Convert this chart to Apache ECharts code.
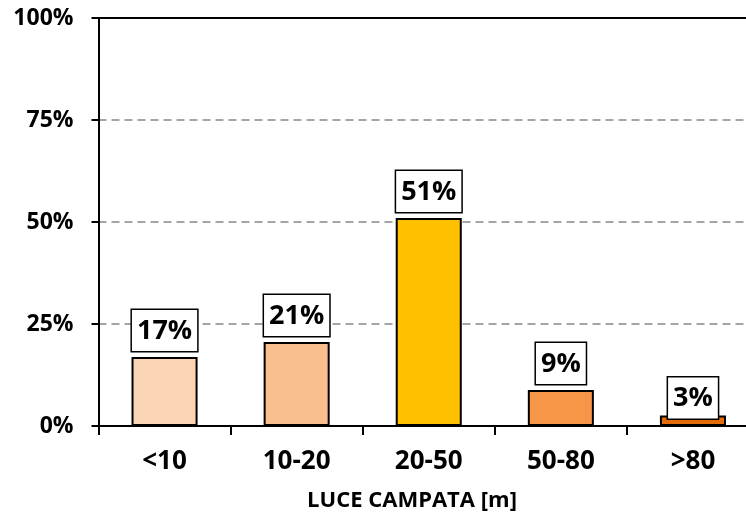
<!DOCTYPE html>
<html><head><meta charset="utf-8">
<script src="https://cdn.jsdelivr.net/npm/echarts@6/dist/echarts.min.js"></script>
<style>html,body{margin:0;padding:0;background:#fff}#c{width:746px;height:520px}</style>
</head><body><div id="c"></div>
<script>
const categories = ['<10', '10-20', '20-50', '50-80', '>80'];
const values = [16.9, 20.6, 51.0, 8.8, 2.6];
const barColors = ['#FBD5B5', '#F9BF8F', '#FFC000', '#F79646', '#E36C09'];
const yTicks = [0, 25, 50, 75, 100];
const axisTitle = 'LUCE CAMPATA [m]';

const FONT = "'Open Sans', sans-serif";
const chart = echarts.init(document.getElementById('c'));
chart.setOption({
  animation: false,
  title: { text: axisTitle, left: 407, top: 485, textAlign: 'center',
    textStyle: { fontFamily: FONT, fontWeight: 'bold', fontSize: 22, color: '#000' } },
  grid: { left: 98.5, top: 18, width: 660.5, height: 408, outerBoundsMode: 'none', containLabel: false },
  xAxis: [{
    type: 'category', data: categories,
    axisLine: { lineStyle: { color: '#000', width: 2 } },
    axisTick: { show: true, length: 9, lineStyle: { color: '#000', width: 2 } },
    axisLabel: { margin: 23, fontFamily: FONT, fontWeight: 'bold', fontSize: 26, color: '#000' }
  }, {
    type: 'category', data: categories, position: 'top',
    axisLine: { lineStyle: { color: '#000', width: 2 } },
    axisTick: { show: false }, axisLabel: { show: false }
  }],
  yAxis: {
    type: 'value', min: 0, max: 100, interval: 25,
    axisLine: { show: true, lineStyle: { color: '#000', width: 2 } },
    axisTick: { show: true, length: 7, lineStyle: { color: '#000', width: 2 } },
    axisLabel: { margin: 25, fontFamily: FONT, fontWeight: 'bold', fontSize: 23, color: '#000',
      formatter: v => yTicks.includes(v) ? v + '%' : '' },
    splitLine: { show: true, lineStyle: { color: '#888', type: [8, 5], width: 1.5 } }
  },
  series: [{
    type: 'bar', barWidth: '50%',
    data: values.map((v, i) => ({ value: v, itemStyle: { color: barColors[i] },
      label: i === 4 ? { distance: -3 } : {} })),
    itemStyle: { borderColor: '#000', borderWidth: 2 },
    label: {
      show: true, position: 'top', distance: 6,
      formatter: p => Math.round(p.value) + '%',
      fontFamily: FONT, fontWeight: 'bold', fontSize: 27, lineHeight: 28, color: '#000',
      backgroundColor: '#fff', borderColor: '#000', borderWidth: 1.5,
      padding: [7, 5, 6, 5]
    }
  }]
});
</script></body></html>
